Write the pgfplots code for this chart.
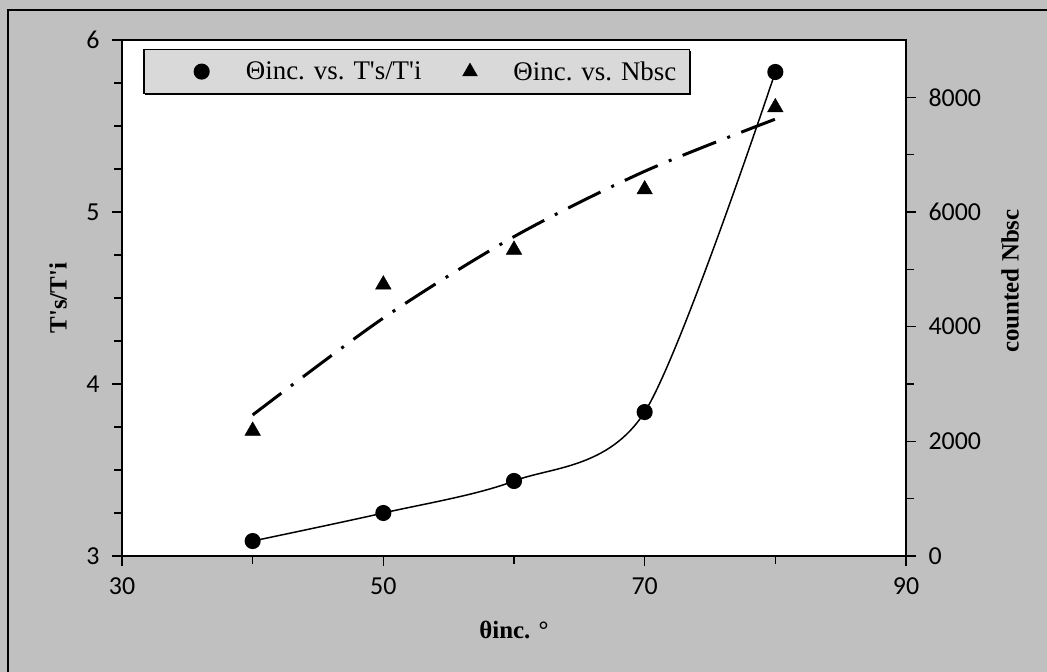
\documentclass[border=0pt]{standalone}
\usepackage{fontspec}
\setmainfont{Liberation Serif}[Ligatures=TeXOff]
\newfontfamily\calibri{Carlito}
\usepackage{pgfplots}
\pgfplotsset{compat=1.18}
\usetikzlibrary{shadows}
\definecolor{bggray}{RGB}{192,192,192}
\definecolor{leggray}{RGB}{217,217,217}

\pgfplotstableread{
x y
40 3.087
50 3.250
60 3.436
70 3.837
80 5.814
}\ratio
\pgfplotstableread{
x y
40 2183
50 4734
60 5340
70 6393
80 7825
}\nbsc
\pgfplotstableread{
x y
40 2460
50 4150
60 5570
70 6710
80 7620
}\trend

\pgfplotsset{
  common/.style={
    at={(122bp,116bp)}, anchor=south west,
    scale only axis, width=784bp, height=516bp,
    xmin=30, xmax=90,
    tick align=outside,
    major tick length=10bp, minor tick length=8bp,
    tick style={black, line width=1.5bp},
    axis line style={line width=1.5bp},
    /pgf/number format/assume math mode=true,
    tick label style={font=\calibri\fontsize{26}{30}\selectfont},
    xticklabel style={yshift=-8bp},
    label style={font=\bfseries\fontsize{25}{30}\selectfont},
  },
  markonly/.style={legend image code/.code={\draw[##1, mark size=7.5bp] plot coordinates {(0bp,0bp)};}},
  firstleg/.style={legend image code/.code={\path (-46bp,0bp); \draw[##1] plot coordinates {(0bp,0bp)};}},
}

\begin{document}
\begin{tikzpicture}
\useasboundingbox (0,0) rectangle (1047bp,672bp);
\fill[bggray] (0,0) rectangle (1047bp,672bp);
\draw[line width=2bp] (8bp,-10bp) -- (8bp,662bp) -- (1060bp,662bp);

\begin{axis}[common,
  axis background/.style={fill=white},
  ymin=3, ymax=6,
  xtick={30,50,70,90}, minor xtick={40,60,80},
  ytick={3,4,5,6}, minor ytick={3.25,3.5,3.75,4.25,4.5,4.75,5.25,5.5,5.75},
  xtick pos=left, ytick pos=left,
  yticklabel style={xshift=-9bp},
  xlabel={θinc. °},
  ylabel={T's/T'i},
  xlabel style={at={(axis description cs:0.5,-0.1434)}, anchor=center},
  ylabel style={at={(axis description cs:-0.0816,0.5)}, anchor=center, rotate=0},
]
\addplot[black, line width=1.5bp, smooth, tension=0.5, mark=*, mark size=7.3bp, mark options={solid}] table[x=x,y=y] {\ratio};
\end{axis}

\begin{axis}[common,
  ymin=0, ymax=9000,
  axis y line*=right, axis x line=none,
  ytick={0,2000,4000,6000,8000}, minor ytick={1000,3000,5000,7000},
  scaled y ticks=false,
  yticklabel style={/pgf/number format/1000 sep={}, xshift=9bp},
  ylabel={counted Nbsc},
  ylabel style={at={(axis description cs:1.1327,0.533)}, anchor=center, rotate=0},
  legend style={at={(axis description cs:0.027,0.983)}, anchor=north west,
    fill=leggray, draw=black, line width=1.5bp,
    font=\fontsize{27}{30}\selectfont,
    nodes={font=\fontsize{27}{30}\selectfont},
    inner xsep=11bp, inner ysep=10bp,
    drop shadow={shadow xshift=1.5bp, shadow yshift=-1.5bp, fill=black, opacity=1},
    /tikz/every odd column/.append style={column sep=35bp},
    /tikz/every even column/.append style={column sep=40bp}},
  legend columns=2,
]
\addlegendimage{only marks, mark=*, mark size=7.3bp, black, firstleg}
\addlegendentry{Θinc. vs. T's/T'i}
\addplot[only marks, mark=triangle*, mark size=9bp, black, markonly] table[x=x,y=y] {\nbsc};
\addlegendentry{Θinc. vs. Nbsc}
\addplot[black, line width=3bp, smooth, dash pattern=on 36bp off 12bp on 3bp off 12bp, forget plot] table[x=x,y=y] {\trend};
\end{axis}
\end{tikzpicture}
\end{document}
